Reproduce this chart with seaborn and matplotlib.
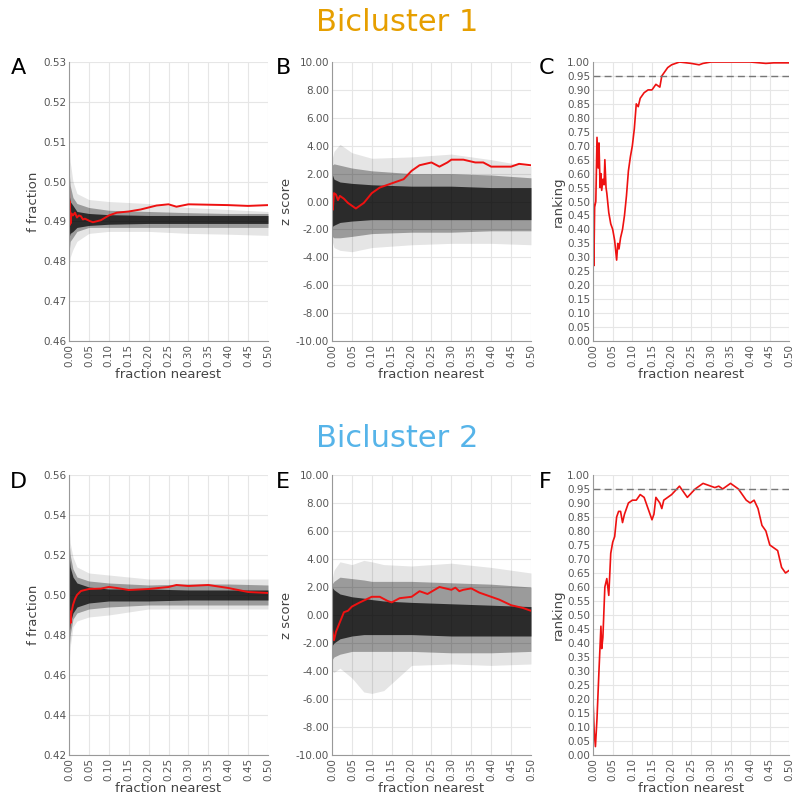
import numpy as np
import pandas as pd
import matplotlib
matplotlib.use("Agg")
import matplotlib.pyplot as plt
import seaborn as sns
from matplotlib.ticker import FormatStrFormatter

# ---------------- data ----------------
# Panel A: null-distribution envelopes and observed (red) f fraction
a_env_x = [0.0, 0.003, 0.01, 0.02, 0.05, 0.10, 0.20, 0.30, 0.40, 0.50]
a_outer_lo = [0.477, 0.481, 0.483, 0.485, 0.487, 0.4875, 0.4875, 0.487, 0.4868, 0.4865]
a_outer_hi = [0.510, 0.505, 0.500, 0.497, 0.4955, 0.495, 0.4945, 0.4935, 0.493, 0.4925]
a_mid_lo = [0.482, 0.485, 0.486, 0.4875, 0.4885, 0.4885, 0.4885, 0.4885, 0.4885, 0.4885]
a_mid_hi = [0.503, 0.499, 0.496, 0.4945, 0.4935, 0.4928, 0.4925, 0.4922, 0.492, 0.492]
a_core_lo = [0.486, 0.487, 0.4875, 0.4885, 0.489, 0.4893, 0.4895, 0.4895, 0.4895, 0.4895]
a_core_hi = [0.497, 0.495, 0.494, 0.4925, 0.492, 0.4917, 0.4915, 0.4915, 0.4915, 0.4915]
a_red_x = [0.0, 0.001, 0.002, 0.004, 0.006, 0.01, 0.015, 0.02, 0.025, 0.03, 0.035, 0.04, 0.05, 0.06,
           0.08, 0.10, 0.12, 0.15, 0.18, 0.20, 0.22, 0.25, 0.27, 0.30, 0.35, 0.40, 0.45, 0.50]
a_red_y = [0.500, 0.489, 0.495, 0.4895, 0.492, 0.4915, 0.4922, 0.491, 0.4915, 0.4913, 0.4905, 0.4907,
           0.4902, 0.4898, 0.4903, 0.4915, 0.4922, 0.4925, 0.493, 0.4935, 0.494, 0.4943, 0.4937,
           0.4943, 0.4942, 0.4941, 0.4939, 0.4941]

# Panel B: z score
b_env_x = [0.0, 0.005, 0.02, 0.05, 0.10, 0.20, 0.30, 0.40, 0.50]
b_outer_lo = [-2.8, -3.3, -3.5, -3.6, -3.3, -3.1, -3.0, -3.0, -3.1]
b_outer_hi = [3.0, 3.6, 4.1, 3.5, 3.1, 3.2, 3.4, 3.0, 2.5]
b_mid_lo = [-2.5, -2.6, -2.6, -2.5, -2.3, -2.2, -2.2, -2.1, -2.1]
b_mid_hi = [2.6, 2.7, 2.6, 2.4, 2.2, 2.0, 2.0, 1.9, 1.7]
b_core_lo = [-1.8, -1.7, -1.5, -1.4, -1.3, -1.3, -1.3, -1.3, -1.3]
b_core_hi = [2.0, 1.6, 1.4, 1.3, 1.2, 1.1, 1.1, 1.0, 1.0]
b_red_x = [0.0, 0.002, 0.005, 0.01, 0.015, 0.02, 0.025, 0.03, 0.04, 0.05, 0.06, 0.07, 0.08, 0.10,
           0.12, 0.15, 0.18, 0.20, 0.22, 0.25, 0.27, 0.29, 0.30, 0.33, 0.36, 0.38, 0.40, 0.45, 0.47, 0.50]
b_red_y = [0.5, -0.6, 0.6, 0.5, 0.1, 0.4, 0.3, 0.2, -0.1, -0.3, -0.5, -0.3, -0.1, 0.6,
           1.0, 1.3, 1.6, 2.2, 2.6, 2.8, 2.5, 2.8, 3.0, 3.0, 2.8, 2.8, 2.5, 2.5, 2.7, 2.6]

# Panel C: ranking
c_red_x = [0.0, 0.002, 0.004, 0.007, 0.01, 0.013, 0.015, 0.018, 0.02, 0.022, 0.025, 0.028, 0.03,
           0.033, 0.035, 0.04, 0.045, 0.05, 0.055, 0.06, 0.063, 0.066, 0.07, 0.075, 0.08, 0.085,
           0.09, 0.095, 0.10, 0.105, 0.11, 0.115, 0.12, 0.125, 0.13, 0.14, 0.15, 0.16, 0.17, 0.175,
           0.18, 0.19, 0.20, 0.22, 0.25, 0.27, 0.28, 0.30, 0.35, 0.40, 0.44, 0.46, 0.50]
c_red_y = [0.73, 0.27, 0.48, 0.50, 0.73, 0.62, 0.71, 0.55, 0.60, 0.54, 0.58, 0.56, 0.65,
           0.55, 0.53, 0.46, 0.42, 0.40, 0.36, 0.29, 0.35, 0.33, 0.37, 0.40, 0.45, 0.52,
           0.61, 0.66, 0.70, 0.76, 0.85, 0.84, 0.87, 0.88, 0.89, 0.90, 0.90, 0.92, 0.91, 0.95,
           0.96, 0.98, 0.99, 1.00, 0.995, 0.99, 0.995, 1.00, 1.00, 1.00, 0.995, 0.997, 0.997]

# Panel D: f fraction (bicluster 2)
d_env_x = [0.0, 0.003, 0.01, 0.02, 0.05, 0.10, 0.20, 0.30, 0.40, 0.50]
d_outer_lo = [0.465, 0.474, 0.484, 0.487, 0.489, 0.490, 0.493, 0.493, 0.493, 0.493]
d_outer_hi = [0.535, 0.526, 0.519, 0.514, 0.511, 0.510, 0.508, 0.508, 0.508, 0.508]
d_mid_lo = [0.472, 0.480, 0.488, 0.491, 0.493, 0.494, 0.495, 0.495, 0.495, 0.495]
d_mid_hi = [0.527, 0.520, 0.513, 0.509, 0.507, 0.506, 0.505, 0.5055, 0.5055, 0.505]
d_core_lo = [0.480, 0.486, 0.491, 0.494, 0.496, 0.497, 0.497, 0.4975, 0.4975, 0.4975]
d_core_hi = [0.520, 0.514, 0.509, 0.506, 0.504, 0.503, 0.503, 0.5025, 0.5025, 0.5025]
d_red_x = [0.0, 0.002, 0.004, 0.006, 0.01, 0.015, 0.02, 0.03, 0.05, 0.08, 0.10, 0.12, 0.15,
           0.20, 0.25, 0.27, 0.30, 0.35, 0.40, 0.45, 0.50]
d_red_y = [0.482, 0.492, 0.486, 0.491, 0.495, 0.498, 0.500, 0.502, 0.503, 0.5032, 0.504, 0.5035,
           0.5025, 0.503, 0.504, 0.505, 0.5045, 0.505, 0.5035, 0.5015, 0.501]

# Panel E: z score (bicluster 2)
e_env_x = [0.0, 0.005, 0.02, 0.05, 0.08, 0.10, 0.13, 0.20, 0.30, 0.40, 0.50]
e_outer_lo = [-4.0, -4.1, -3.8, -4.5, -5.5, -5.6, -5.4, -3.6, -3.5, -3.6, -3.5]
e_outer_hi = [2.5, 3.2, 3.8, 3.6, 3.9, 3.8, 3.6, 3.5, 3.7, 3.4, 3.0]
e_mid_lo = [-3.2, -3.0, -2.8, -2.6, -2.6, -2.6, -2.6, -2.6, -2.7, -2.7, -2.6]
e_mid_hi = [2.2, 2.4, 2.7, 2.6, 2.5, 2.4, 2.4, 2.4, 2.3, 2.2, 2.0]
e_core_lo = [-2.2, -2.0, -1.7, -1.5, -1.4, -1.4, -1.4, -1.4, -1.5, -1.5, -1.5]
e_core_hi = [2.0, 1.8, 1.5, 1.3, 1.2, 1.1, 1.0, 0.9, 0.8, 0.7, 0.6]
e_red_x = [0.0, 0.005, 0.01, 0.02, 0.03, 0.04, 0.05, 0.07, 0.10, 0.12, 0.14, 0.15, 0.17, 0.20,
           0.22, 0.24, 0.27, 0.30, 0.31, 0.32, 0.33, 0.35, 0.37, 0.40, 0.42, 0.45, 0.48, 0.50]
e_red_y = [-1.0, -1.8, -1.2, -0.5, 0.2, 0.3, 0.6, 0.9, 1.3, 1.3, 1.0, 0.9, 1.2, 1.3,
           1.7, 1.5, 2.0, 1.8, 1.95, 1.7, 1.8, 1.9, 1.6, 1.3, 1.1, 0.7, 0.5, 0.3]

# Panel F: ranking (bicluster 2)
f_red_x = [0.0, 0.003, 0.006, 0.01, 0.015, 0.02, 0.022, 0.025, 0.03, 0.035, 0.04, 0.045, 0.05,
           0.055, 0.06, 0.065, 0.07, 0.075, 0.08, 0.09, 0.10, 0.11, 0.12, 0.13, 0.14, 0.15,
           0.155, 0.16, 0.17, 0.175, 0.18, 0.19, 0.20, 0.22, 0.24, 0.26, 0.28, 0.30, 0.31, 0.32,
           0.33, 0.35, 0.37, 0.39, 0.40, 0.41, 0.42, 0.43, 0.44, 0.45, 0.47, 0.48, 0.49, 0.50]
f_red_y = [0.19, 0.08, 0.03, 0.13, 0.30, 0.46, 0.38, 0.42, 0.60, 0.63, 0.57, 0.72, 0.76,
           0.78, 0.85, 0.87, 0.87, 0.83, 0.86, 0.90, 0.91, 0.91, 0.93, 0.92, 0.88, 0.84,
           0.86, 0.92, 0.90, 0.88, 0.91, 0.92, 0.93, 0.96, 0.92, 0.95, 0.97, 0.96, 0.955, 0.96,
           0.95, 0.97, 0.95, 0.91, 0.90, 0.91, 0.88, 0.82, 0.80, 0.75, 0.73, 0.67, 0.65, 0.66]

x_ticks = [0.0, 0.05, 0.10, 0.15, 0.20, 0.25, 0.30, 0.35, 0.40, 0.45, 0.50]

# ---------------- style ----------------
sns.set_theme(style="whitegrid")
plt.rcParams["font.family"] = ["DejaVu Sans"]

fig = plt.figure(figsize=(7.95, 7.94), dpi=100)
W = 0.2503
WC = 0.2470
pos = {
    "A": [0.0868, 0.5705, W, 0.3514],
    "B": [0.4176, 0.5705, W, 0.3514],
    "C": [0.7460, 0.5705, WC, 0.3514],
    "D": [0.0868, 0.0491, W, 0.3527],
    "E": [0.4176, 0.0491, W, 0.3527],
    "F": [0.7460, 0.0491, WC, 0.3527],
}

tick_col = "#555555"


def style_ax(ax, ylim, yticks, ylabel, fmt="%.2f"):
    ax.set_xlim(0, 0.5)
    ax.set_ylim(*ylim)
    ax.set_xticks(x_ticks)
    ax.set_yticks(yticks)
    ax.xaxis.set_major_formatter(FormatStrFormatter("%.2f"))
    ax.yaxis.set_major_formatter(FormatStrFormatter(fmt))
    ax.tick_params(axis="x", labelrotation=90, labelsize=7.5, colors=tick_col, length=0, pad=2)
    ax.tick_params(axis="y", labelsize=7.5, colors=tick_col, length=0, pad=2)
    ax.grid(True, color="#e6e6e6", linewidth=0.8)
    for s in ["top", "right"]:
        ax.spines[s].set_visible(False)
    for s in ["left", "bottom"]:
        ax.spines[s].set_visible(True)
        ax.spines[s].set_color("#999999")
        ax.spines[s].set_linewidth(0.8)
    ax.set_xlabel("fraction nearest", fontsize=9.5, color="#444444", labelpad=1)
    ax.set_ylabel(ylabel, fontsize=9.5, color="#444444", labelpad=2)
    ax.set_facecolor("white")


def band(ax, x, olo, ohi, mlo, mhi, clo, chi):
    ax.fill_between(x, olo, ohi, color="black", alpha=0.10, linewidth=0)
    ax.fill_between(x, mlo, mhi, color="black", alpha=0.32, linewidth=0)
    ax.fill_between(x, clo, chi, color="black", alpha=0.72, linewidth=0)


def red(ax, x, y, lw=1.4):
    df = pd.DataFrame({"x": x, "y": y})
    sns.lineplot(data=df, x="x", y="y", ax=ax, color="#ee1111", linewidth=lw,
                 estimator=None, sort=False)


axA = fig.add_axes(pos["A"])
band(axA, a_env_x, a_outer_lo, a_outer_hi, a_mid_lo, a_mid_hi, a_core_lo, a_core_hi)
red(axA, a_red_x, a_red_y)
style_ax(axA, (0.46, 0.53), np.arange(0.46, 0.5301, 0.01), "f fraction")

axB = fig.add_axes(pos["B"])
band(axB, b_env_x, b_outer_lo, b_outer_hi, b_mid_lo, b_mid_hi, b_core_lo, b_core_hi)
red(axB, b_red_x, b_red_y)
style_ax(axB, (-10, 10), np.arange(-10, 10.01, 2), "z score")

axC = fig.add_axes(pos["C"])
red(axC, c_red_x, c_red_y, lw=1.2)
style_ax(axC, (0, 1), np.arange(0, 1.001, 0.05), "ranking")

axD = fig.add_axes(pos["D"])
band(axD, d_env_x, d_outer_lo, d_outer_hi, d_mid_lo, d_mid_hi, d_core_lo, d_core_hi)
red(axD, d_red_x, d_red_y)
style_ax(axD, (0.42, 0.56), np.arange(0.42, 0.5601, 0.02), "f fraction")

axE = fig.add_axes(pos["E"])
band(axE, e_env_x, e_outer_lo, e_outer_hi, e_mid_lo, e_mid_hi, e_core_lo, e_core_hi)
red(axE, e_red_x, e_red_y)
style_ax(axE, (-10, 10), np.arange(-10, 10.01, 2), "z score")

axF = fig.add_axes(pos["F"])
red(axF, f_red_x, f_red_y, lw=1.2)
style_ax(axF, (0, 1), np.arange(0, 1.001, 0.05), "ranking")

for ax in [axC, axF]:
    ax.axhline(0.95, color="#777777", linestyle=(0, (5, 3)), linewidth=1.0)

# titles and panel letters
fig.text(0.5, 0.972, "Bicluster 1", ha="center", va="center", fontsize=22, color="#E69F00")
fig.text(0.5, 0.448, "Bicluster 2", ha="center", va="center", fontsize=22, color="#56B4E9")
letters = {"A": (0.013, 0.914), "B": (0.347, 0.914), "C": (0.678, 0.914),
           "D": (0.013, 0.393), "E": (0.347, 0.393), "F": (0.678, 0.393)}
for k, (lx, ly) in letters.items():
    fig.text(lx, ly, k, ha="left", va="center", fontsize=16, color="black")

fig.savefig("out.png", dpi=100, facecolor="white")
